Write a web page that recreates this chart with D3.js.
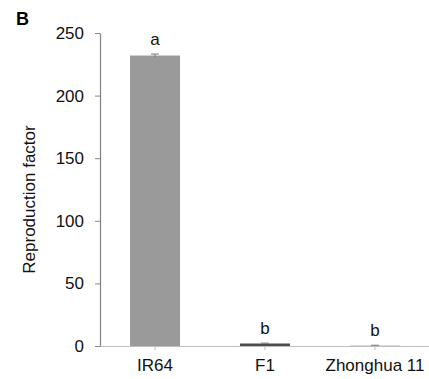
<!DOCTYPE html>
<html>
<head>
<meta charset="utf-8">
<script src="https://cdn.jsdelivr.net/npm/d3@7"></script>
<style>
  body { margin: 0; background: #fff; }
  text { font-family: "Liberation Sans", Arial, sans-serif; }
</style>
</head>
<body>
<script>
// data
var categories = ['IR64', 'F1', 'Zhonghua 11'];
var values = [232, 2, 0.5];
var errors = [1.2, 0.3, 0.1];
var letters = ['a', 'b', 'b'];
var barColors = ['#9a9a9a', '#4d4d4d', '#c4c4c4'];
var yTicks = [0, 50, 100, 150, 200, 250];

var width = 429, height = 379;

var svg = d3.select('body').append('svg')
  .attr('width', width)
  .attr('height', height);

var x = d3.scaleBand()
  .domain(categories)
  .range([100, 430])
  .paddingInner(0.545)
  .paddingOuter(0.2725);

var y = d3.scaleLinear()
  .domain([0, 250])
  .range([346, 33]);

// panel letter
svg.append('text')
  .attr('x', 16)
  .attr('y', 25)
  .style('font-size', '18px')
  .style('font-weight', 'bold')
  .text('B');

// bars
svg.selectAll('rect.bar')
  .data(categories)
  .enter().append('rect')
  .attr('class', 'bar')
  .attr('x', d => x(d))
  .attr('width', x.bandwidth())
  .attr('y', (d, i) => y(values[i]))
  .attr('height', (d, i) => y(0) - y(values[i]))
  .attr('fill', (d, i) => barColors[i]);

// error bars
var cap = 4;
categories.forEach(function (d, i) {
  var cx = x(d) + x.bandwidth() / 2;
  var g = svg.append('g').attr('stroke', '#777').attr('stroke-width', 1);
  g.append('line')
    .attr('x1', cx).attr('x2', cx)
    .attr('y1', y(values[i] - errors[i])).attr('y2', y(values[i] + errors[i]));
  g.append('line')
    .attr('x1', cx - cap).attr('x2', cx + cap)
    .attr('y1', y(values[i] + errors[i])).attr('y2', y(values[i] + errors[i]));
});

// significance letters
svg.selectAll('text.sig')
  .data(categories)
  .enter().append('text')
  .attr('class', 'sig')
  .attr('x', d => x(d) + x.bandwidth() / 2)
  .attr('y', (d, i) => y(values[i] + errors[i]) - 9)
  .attr('text-anchor', 'middle')
  .style('font-size', '17px')
  .attr('fill', '#111')
  .text((d, i) => letters[i]);

// x axis
var xAxis = svg.append('g')
  .attr('transform', 'translate(0,' + y(0) + ')')
  .call(d3.axisBottom(x).tickSize(4).tickPadding(9).tickSizeOuter(0));
xAxis.select('.domain').attr('stroke', '#bdbdbd');
xAxis.selectAll('.tick line').attr('stroke', '#bdbdbd');
xAxis.selectAll('.tick text')
  .style('font-size', '17px')
  .style('font-family', '"Liberation Sans", Arial, sans-serif')
  .attr('fill', '#111');

// y axis
var yAxis = svg.append('g')
  .attr('transform', 'translate(100,0)')
  .call(d3.axisLeft(y).tickValues(yTicks).tickSize(5).tickPadding(11).tickSizeOuter(0));
yAxis.select('.domain').attr('stroke', '#888').attr('stroke-width', 1.3);
yAxis.selectAll('.tick line').attr('stroke', '#888');
yAxis.selectAll('.tick text')
  .style('font-size', '17px')
  .style('font-family', '"Liberation Sans", Arial, sans-serif')
  .attr('fill', '#111');

// y axis title
svg.append('text')
  .attr('transform', 'translate(35,' + 199.5 + ') rotate(-90)')
  .attr('text-anchor', 'middle')
  .style('font-size', '17px')
  .attr('fill', '#111')
  .text('Reproduction factor');
</script>
</body>
</html>
